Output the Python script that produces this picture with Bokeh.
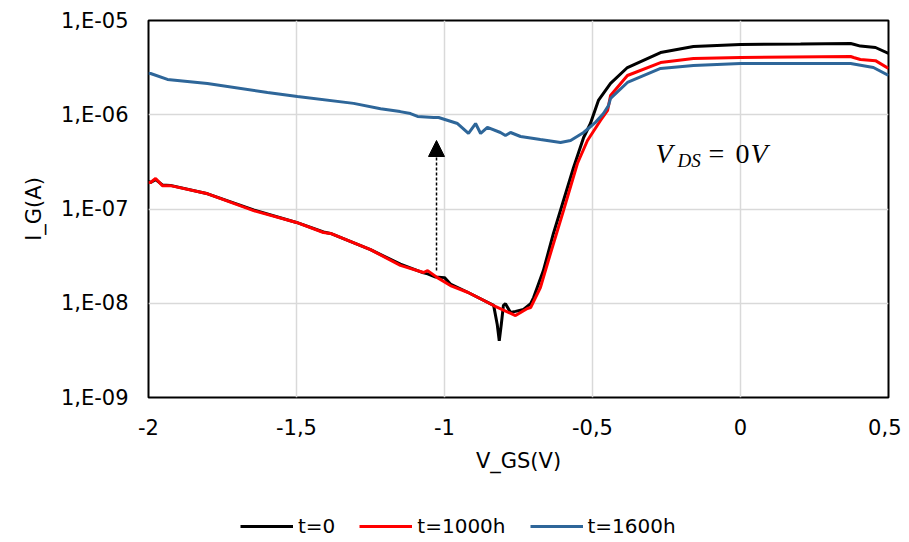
from bokeh.plotting import figure
from bokeh.layouts import column
from bokeh.models import Range1d, FixedTicker, Legend, LegendItem, Label, Arrow, NormalHead
from bokeh.embed import file_html
from bokeh.resources import INLINE

# ---- data ----
v_t0 = [-2.0, -1.993, -1.976, -1.953, -1.926, -1.80, -1.645, -1.50, -1.409, -1.385, -1.25, -1.149,
        -1.071, -1.057, -1.03, -1.0, -0.98, -0.92, -0.834, -0.822, -0.815, -0.808, -0.801, -0.794,
        -0.777, -0.760, -0.733, -0.709, -0.699, -0.666, -0.632, -0.598, -0.564, -0.530, -0.507,
        -0.480, -0.439, -0.382, -0.270, -0.159, 0.0, 0.203, 0.372, 0.382, 0.405, 0.456, 0.5]
i_t0 = [1.95e-7, 1.91e-7, 2.05e-7, 1.80e-7, 1.78e-7, 1.45e-7, 9.8e-8, 7.2e-8, 5.7e-8, 5.5e-8, 3.7e-8, 2.6e-8,
        2.1e-8, 2.05e-8, 1.9e-8, 1.87e-8, 1.6e-8, 1.3e-8, 9.5e-9, 6.0e-9, 4.0e-9, 6.0e-9, 9.5e-9, 9.9e-9,
        8.0e-9, 8.2e-9, 8.6e-9, 9.9e-9, 1.15e-8, 2.22e-8, 5.5e-8, 1.23e-7, 2.76e-7, 5.74e-7, 8.07e-7,
        1.42e-6, 2.15e-6, 3.17e-6, 4.57e-6, 5.30e-6, 5.56e-6, 5.62e-6, 5.70e-6, 5.60e-6, 5.35e-6, 5.17e-6, 4.47e-6]

v_t1000 = [-2.0, -1.993, -1.976, -1.953, -1.926, -1.80, -1.645, -1.50, -1.409, -1.385, -1.25, -1.149,
           -1.071, -1.057, -1.024, -0.98, -0.92, -0.834, -0.760, -0.720, -0.709, -0.676, -0.642,
           -0.598, -0.551, -0.517, -0.473, -0.449, -0.439, -0.382, -0.270, -0.159, 0.0, 0.372,
           0.382, 0.405, 0.456, 0.5]
i_t1000 = [1.91e-7, 1.91e-7, 2.11e-7, 1.77e-7, 1.77e-7, 1.45e-7, 9.6e-8, 7.2e-8, 5.63e-8, 5.5e-8, 3.7e-8, 2.52e-8,
           2.12e-8, 2.22e-8, 1.87e-8, 1.54e-8, 1.3e-8, 9.46e-9, 7.4e-9, 8.8e-9, 9.0e-9, 1.47e-8, 3.37e-8,
           9.6e-8, 3.04e-7, 5.33e-7, 8.7e-7, 1.11e-6, 1.60e-6, 2.61e-6, 3.58e-6, 3.95e-6, 4.05e-6, 4.15e-6,
           4.05e-6, 3.86e-6, 3.75e-6, 3.10e-6]

v_t1600 = [-2.0, -1.993, -1.936, -1.801, -1.598, -1.497, -1.307, -1.216, -1.15, -1.115, -1.091, -1.037,
           -1.02, -0.956, -0.919, -0.895, -0.878, -0.855, -0.811, -0.794, -0.777, -0.743, -0.676,
           -0.608, -0.574, -0.530, -0.490, -0.463, -0.446, -0.439, -0.382, -0.270, -0.159, 0.0,
           0.372, 0.449, 0.5]
i_t1600 = [2.74e-6, 2.74e-6, 2.37e-6, 2.15e-6, 1.72e-6, 1.56e-6, 1.32e-6, 1.16e-6, 1.08e-6, 1.03e-6, 9.6e-7, 9.35e-7,
           9.35e-7, 8.07e-7, 6.33e-7, 8.07e-7, 6.33e-7, 7.33e-7, 6.48e-7, 6.03e-7, 6.48e-7, 5.88e-7, 5.46e-7,
           5.08e-7, 5.33e-7, 6.48e-7, 8.3e-7, 1.03e-6, 1.25e-6, 1.49e-6, 2.20e-6, 3.10e-6, 3.33e-6, 3.50e-6,
           3.50e-6, 3.17e-6, 2.61e-6]

x_ticks = [-2.0, -1.5, -1.0, -0.5, 0.0, 0.5]
x_tick_labels = ["-2", "-1,5", "-1", "-0,5", "0", "0,5"]
y_ticks = [1e-9, 1e-8, 1e-7, 1e-6, 1e-5]
y_tick_labels = ["1,E-09", "1,E-08", "1,E-07", "1,E-06", "1,E-05"]

series_names = ["t=0", "t=1000h", "t=1600h"]
series_colors = ["#000000", "#ff0000", "#2e6699"]

arrow_v = -1.027
arrow_i = [2.22e-8, 5.33e-7]

FONT = "DejaVu Sans"

p = figure(width=901, height=490, x_range=Range1d(-2, 0.5), y_range=Range1d(1e-9, 1e-5),
           y_axis_type="log", output_backend="svg", toolbar_location=None,
           min_border_left=148, min_border_right=13, min_border_top=20, min_border_bottom=93)

p.background_fill_color = "white"
p.border_fill_color = "white"
p.outline_line_color = "black"
p.outline_line_width = 2

p.xaxis.ticker = FixedTicker(ticks=x_ticks)
p.xaxis.major_label_overrides = dict(zip(x_ticks, x_tick_labels))
p.yaxis.ticker = FixedTicker(ticks=y_ticks)
p.yaxis.major_label_overrides = dict(zip(y_ticks, y_tick_labels))

for ax in (p.xaxis, p.yaxis):
    ax.axis_line_color = None
    ax.major_tick_line_color = None
    ax.minor_tick_line_color = None
    ax.major_tick_out = 0
    ax.major_tick_in = 0
    ax.major_label_text_font = FONT
    ax.major_label_text_font_size = "21px"
    ax.major_label_text_color = "black"
    ax.axis_label_text_font = FONT
    ax.axis_label_text_font_size = "21px"
    ax.axis_label_text_font_style = "normal"
    ax.axis_label_text_color = "black"

p.xaxis.axis_label = "V_GS(V)"
p.yaxis.axis_label = "I_G(A)"
p.xaxis.major_label_standoff = 21
p.yaxis.major_label_standoff = 20
p.xaxis.axis_label_standoff = 11
p.yaxis.axis_label_standoff = 12

p.xgrid.ticker = FixedTicker(ticks=x_ticks)
p.ygrid.ticker = FixedTicker(ticks=y_ticks)
for g in (p.xgrid, p.ygrid):
    g.grid_line_color = "#d9d9d9"
    g.grid_line_width = 1.5
    g.minor_grid_line_color = None

p.line(v_t0, i_t0, line_color=series_colors[0], line_width=3)
p.line(v_t1000, i_t1000, line_color=series_colors[1], line_width=3)
p.line(v_t1600, i_t1600, line_color=series_colors[2], line_width=3)

p.add_layout(Arrow(end=NormalHead(size=16, fill_color="black", line_color="black"),
                   x_start=arrow_v, y_start=arrow_i[0], x_end=arrow_v, y_end=arrow_i[1],
                   line_color="black", line_width=1.5, line_dash="3 2"))

SERIF = "Liberation Serif"
p.add_layout(Label(x=-0.287, y=3.88e-7, text="V", text_font=SERIF, text_font_style="italic",
                   text_font_size="28px", text_baseline="middle", text_color="black"))
p.add_layout(Label(x=-0.213, y=3.27e-7, text="DS", text_font=SERIF, text_font_style="italic",
                   text_font_size="19px", text_baseline="middle", text_color="black"))
p.add_layout(Label(x=-0.108, y=3.88e-7, text="=", text_font=SERIF,
                   text_font_size="28px", text_baseline="middle", text_color="black"))
p.add_layout(Label(x=-0.017, y=3.88e-7, text="0", text_font=SERIF,
                   text_font_size="28px", text_baseline="middle", text_color="black"))
p.add_layout(Label(x=0.034, y=3.88e-7, text="V", text_font=SERIF, text_font_style="italic",
                   text_font_size="28px", text_baseline="middle", text_color="black"))

# ---- legend strip below the chart (same three series, drawn off-range) ----
pl = figure(width=901, height=51, x_range=Range1d(-2, 0.5), y_range=Range1d(1e-3, 1e-2),
            y_axis_type="log", output_backend="svg", toolbar_location=None,
            x_axis_location=None, y_axis_location=None,
            min_border_left=0, min_border_right=0, min_border_top=0, min_border_bottom=0)
pl.outline_line_color = None
pl.grid.visible = False
pl.background_fill_color = "white"
pl.border_fill_color = "white"
lr = [pl.line(v, i, line_color=c, line_width=3)
      for v, i, c in zip([v_t0, v_t1000, v_t1600], [i_t0, i_t1000, i_t1600], series_colors)]
legend = Legend(items=[LegendItem(label=n, renderers=[r]) for n, r in zip(series_names, lr)],
                orientation="horizontal", location=(92, 3),
                glyph_width=53, glyph_height=24, label_height=24, label_standoff=5, spacing=24,
                padding=0, margin=0, border_line_color=None, background_fill_alpha=0,
                label_text_font=FONT, label_text_font_size="20px", label_text_color="black")
pl.add_layout(legend, "center")

layout = column(p, pl, spacing=0)
open("out.html", "w").write(file_html(layout, INLINE))
